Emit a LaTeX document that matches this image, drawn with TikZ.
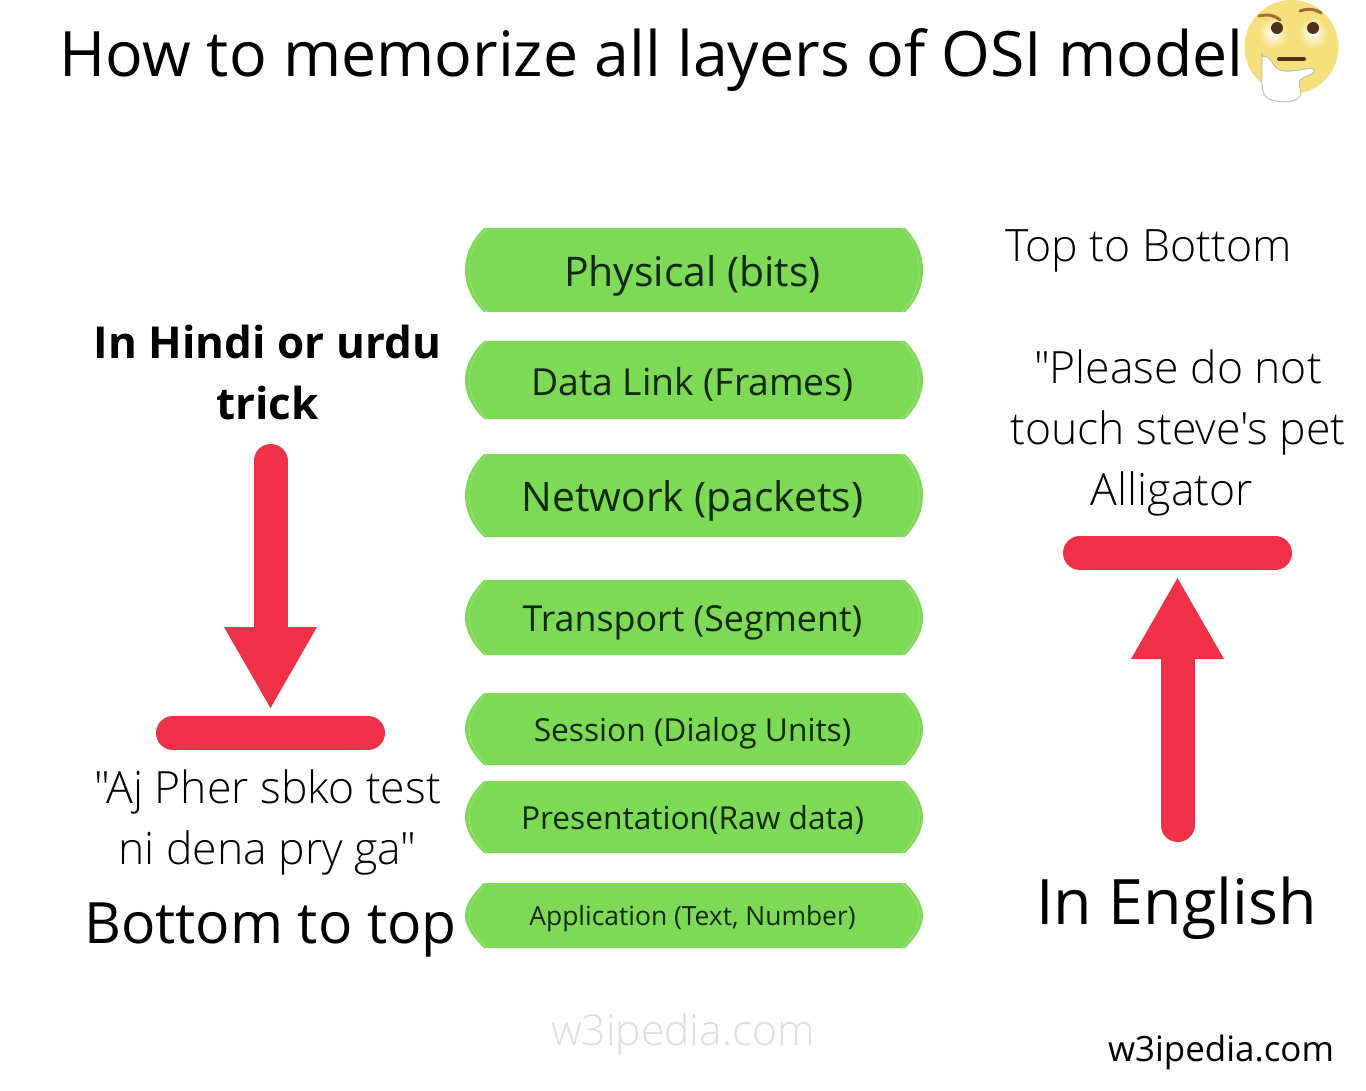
\documentclass[tikz,border=0pt]{standalone}
\usepackage{fontspec}
\setmainfont{Open Sans}
\newfontfamily\lightf{Open Sans Light}
\usetikzlibrary{calc}
\definecolor{pillgreen}{HTML}{7ED957}
\definecolor{pilltext}{HTML}{0E2A0A}
\definecolor{redbar}{HTML}{EE3049}
\definecolor{facey}{HTML}{F5E07C}
\definecolor{mark}{HTML}{DEDEDE}
\newcommand{\fs}[1]{\fontsize{#1}{#1}\selectfont}
\tikzset{
 lbl/.style={inner sep=0pt,outer sep=0pt,anchor=center,align=center},
 multi/.style={lbl,font=\fontsize{#1}{61}\selectfont},
 multilight/.style={lbl,font=\fontsize{#1}{61}\selectfont\lightf},
 redline/.style={line width=34pt,draw=redbar,line cap=round},
 redhead/.style={fill=redbar,draw=none},
 pilltxt/.style={lbl,text=pilltext},
 rimline/.style={draw=white!35!pillgreen,line width=0.4pt}
}
% #1 name, #2 top, #3 bottom, #4 size, #5 text, #6 text y
\newcommand{\pill}[6]{%
 \pgfmathsetmacro{\hh}{#3-#2}
 \pgfmathsetmacro{\mm}{(#2+#3)/2}
 \fill[pillgreen] (484,#2) -- (905,#2)
  .. controls ({905+.137*\hh},{#2+.131*\hh}) and (923,{\mm-.19*\hh}) .. (923,\mm)
  .. controls (923,{\mm+.19*\hh}) and ({905+.137*\hh},{#3-.131*\hh}) .. (905,#3) -- (484,#3)
  .. controls ({484-.137*\hh},{#3-.131*\hh}) and (465,{\mm+.19*\hh}) .. (465,\mm)
  .. controls (465,{\mm-.19*\hh}) and ({484-.137*\hh},{#2+.131*\hh}) .. (484,#2) -- cycle;
 \draw[rimline] (487,#2) .. controls ({487-.137*\hh},{#2+.131*\hh}) and (469,{\mm-.19*\hh}) .. (469,\mm)
  .. controls (469,{\mm+.19*\hh}) and ({487-.137*\hh},{#3-.131*\hh}) .. (487,#3);
 \draw[rimline] (902,#2) .. controls ({902+.137*\hh},{#2+.131*\hh}) and (919,{\mm-.19*\hh}) .. (919,\mm)
  .. controls (919,{\mm+.19*\hh}) and ({902+.137*\hh},{#3-.131*\hh}) .. (902,#3);
 \node[pilltxt] (#1) at (692.5,#6) {\fs{#4}#5};
}
\begin{document}
\begin{tikzpicture}[x=1pt,y=-1pt]
\useasboundingbox (0,0) rectangle (1366,1091);
\fill[white] (0,0) rectangle (1366,1091);
% title
\node[lbl] (title) at (651.5,60) {\fs{62.6}How to memorize all layers of OSI model};
% emoji
\begin{scope}
\fill[facey] (1291.5,47) circle (47);
\shade[inner color=white,outer color=facey] (1273,33) ellipse (15 and 16);
\shade[inner color=white,outer color=facey] (1313,33) ellipse (15 and 16);
\fill[black!60!brown] (1277,28) circle (6);
\fill[black!60!brown] (1313,28) circle (6);
\draw[brown!85!black,line width=3pt,line cap=round] (1259,16) .. controls (1268,14) and (1275,15) .. (1280,20);
\draw[brown!85!black,line width=3pt,line cap=round] (1300,11) .. controls (1308,8) and (1316,9) .. (1321,13);
\draw[black!60!brown,line width=4pt,line cap=round] (1279,59) -- (1304,59);
\fill[white,draw=gray!50,line width=1pt,rounded corners=3pt] (1262,57) .. controls (1268,56) and (1272,62) .. (1276,68) .. controls (1285,73) and (1300,70) .. (1311,68) .. controls (1315,70) and (1314,73) .. (1309,75) -- (1299,80) .. controls (1300,88) and (1301,95) .. (1299,98) .. controls (1290,103) and (1272,102) .. (1265,96) .. controls (1261,88) and (1262,70) .. (1262,57) -- cycle;
\end{scope}
% pills
\pill{physical}{228}{312}{40.9}{Physical (bits)}{276}
\pill{datalink}{341}{419}{37.3}{Data Link (Frames)}{384}
\pill{network}{454}{537}{40.8}{Network (packets)}{500.5}
\pill{transport}{580}{655}{35.8}{Transport (Segment)}{622.5}
\pill{session}{693}{765}{31.7}{Session (Dialog Units)}{733}
\pill{presentation}{781}{853}{31.7}{Presentation(Raw data)}{820}
\pill{application}{883}{948}{26.4}{Application (Text, Number)}{918.5}
% left
\node[multi=44] (hindi) at (267.5,372) {\bfseries In Hindi or urdu\\ \bfseries trick};
\coordinate (la) at (270.5,461);
\coordinate (lb) at (270.5,640);
\draw[redline] (la) -- (lb);
\fill[redhead] (224,627) -- (317,627) -- (270.5,708) -- cycle;
\coordinate (lc) at (173,733);
\coordinate (ld) at (368,733);
\draw[redline] (lc) -- (ld);
\node[multilight=44.5] (aj) at (267.5,822) {"Aj Pher sbko test\\ ni dena pry ga"};
\node[lbl] (bottom) at (270.5,930) {\fs{57}Bottom to top};
% right
\node[lbl] (top) at (1148.5,251) {\fs{44.6}\lightf Top to Bottom};
\node[multilight=44.5] (please) at (1178,433) {"Please do not\\ touch steve's pet\\ Alligator\hspace*{12pt}};
\coordinate (rc) at (1080,553);
\coordinate (rd) at (1275,553);
\draw[redline] (rc) -- (rd);
\coordinate (ra) at (1177.5,825);
\coordinate (rb) at (1177.5,645);
\draw[redline] (ra) -- (rb);
\fill[redhead] (1131,659) -- (1224,659) -- (1177.5,578) -- cycle;
\node[lbl] (english) at (1176.5,908) {\fs{62.7}In English};
% watermarks
\node[lbl,text=mark] (wm) at (683,1034) {\fs{42.6}\lightf w3ipedia.com};
\node[lbl] (wm2) at (1221,1052.5) {\fs{34.9}w3ipedia.com};
\end{tikzpicture}
\end{document}
